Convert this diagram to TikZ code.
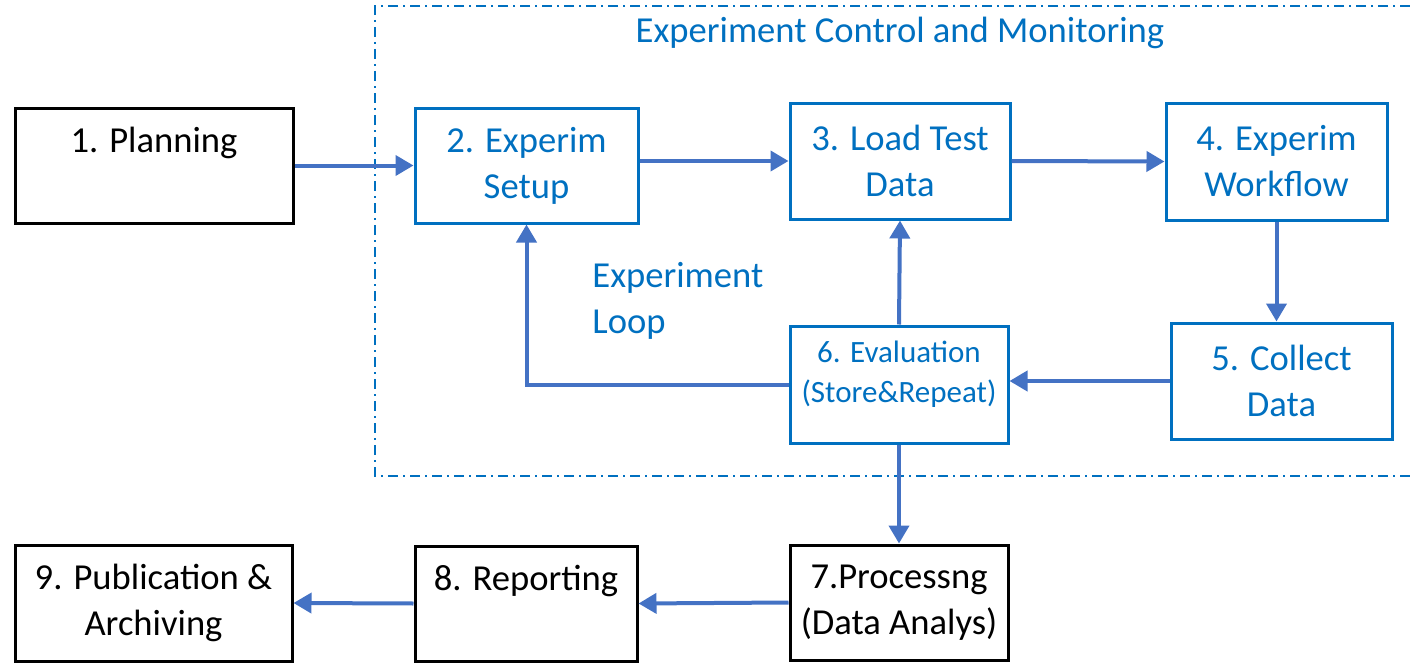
\documentclass[tikz,border=0pt]{standalone}
\usepackage{fontspec}
\setmainfont{Carlito}
\usetikzlibrary{arrows.meta}

\definecolor{boxblue}{HTML}{0070C0}
\definecolor{arrowblue}{HTML}{4472C4}

\begin{document}
\begin{tikzpicture}[x=0.5pt, y=-0.5pt,
    box/.style={draw, line width=1.5pt, align=center, inner sep=0pt,
        font=\fontsize{18.3}{23}\selectfont},
    bluebox/.style={box, draw=boxblue, text=boxblue},
    arr/.style={draw=arrowblue, line width=2pt, -{Triangle[length=9pt,width=10pt]}},
    frame/.style={draw=boxblue, line width=1pt, dash pattern=on 5pt off 2.5pt on 1pt off 2.5pt}]

    \useasboundingbox (0,0) rectangle (1410,664);

    % control and monitoring area
    \draw[frame] (1410,6) -- (375,6) -- (375,476) -- (1410,476);
    \node[text=boxblue, font=\fontsize{18.3}{23}\selectfont] (title) at (900,33) {Experiment Control and Monitoring};

    \node[box, minimum width=139pt, minimum height=57.5pt] (plan) at (154,165.5) {1. Planning\\[3pt]\mbox{}};
    \node[bluebox, minimum width=111.5pt, minimum height=57.5pt] (setup) at (526.5,165.5) {2. Experim\\Setup};
    \node[bluebox, minimum width=110pt, minimum height=58pt] (load) at (900,161) {3. Load Test\\Data};
    \node[bluebox, minimum width=110.5pt, minimum height=58.5pt] (flow) at (1276.5,161.5) {4. Experim\\Workflow};
    \node[bluebox, minimum width=110.5pt, minimum height=58pt] (collect) at (1281.5,381) {5. Collect\\Data};
    \node[bluebox, minimum width=109pt, minimum height=58.5pt, font=\fontsize{15.5}{20}\selectfont] (eval) at (899,384.5) {6. Evaluation\\(Store\&Repeat)\\[-7.5pt]\mbox{}};
    \node[box, minimum width=109pt, minimum height=57.5pt] (proc) at (899,602.5) {7.Processng\\(Data Analys)};
    \node[box, minimum width=111pt, minimum height=57.5pt] (report) at (526,603.5) {8. Reporting\\[3pt]\mbox{}};
    \node[box, minimum width=138.5pt, minimum height=58pt] (publ) at (153.5,603) {9. Publication \&\\Archiving};

    \node[text=boxblue, align=left, anchor=west, inner sep=0pt, font=\fontsize{18.3}{23}\selectfont] (looplbl) at (592,301) {Experiment\\Loop};

    \draw[arr] (plan.east) -- (setup.west);
    \draw[arr] (setup.east |- load.west) -- (load.west);
    \draw[arr] (load.east) -- (flow.west);
    \draw[arr] (flow.south) -- (flow.south |- collect.north);
    \draw[arr] (collect.west) -- (collect.west -| eval.east);
    \draw[arr] (eval.north) -- (load.south);
    \draw[arr] (eval.west) -| (setup.south);
    \draw[arr] (eval.south) -- (proc.north);
    \draw[arr] (proc.west) -- (report.east);
    \draw[arr] (report.west) -- (publ.east);
\end{tikzpicture}
\end{document}
